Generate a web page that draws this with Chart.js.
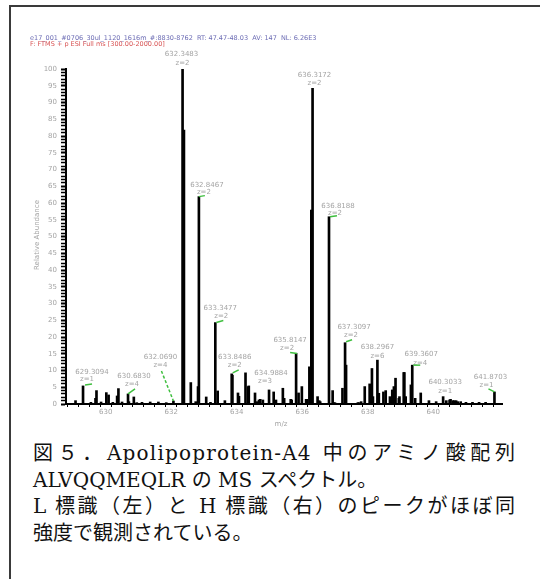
<!DOCTYPE html>
<html>
<head>
<meta charset="utf-8">
<script src="https://cdn.jsdelivr.net/npm/chart.js@4.4.1/dist/chart.umd.min.js"></script>
<style>
html, body { margin: 0; padding: 0; background: #fff; width: 540px; height: 579px; overflow: hidden; }
#frame { position: absolute; left: 9px; top: 5px; width: 700px; height: 700px;
         border-left: 2px solid #3a3a3a; border-top: 2px solid #3a3a3a; }
#wrap { position: absolute; left: 0; top: 0; width: 540px; height: 440px; }
#caption { position: absolute; left: 33px; top: 440px; width: 482px;
           font-family: "DejaVu Serif", "Noto Sans CJK JP", serif;
           font-size: 20px; line-height: 26.5px; color: #111; }
#caption div { white-space: nowrap; }
#caption .j { text-align: justify; text-align-last: justify; }
#caption .wide { letter-spacing: 1.2px; }
</style>
</head>
<body>
<div id="frame"></div>
<div id="wrap"><canvas id="ms-chart"></canvas></div>
<div id="caption">
  <div class="j">図５．<span class="wide">Apolipoprotein-A4</span> 中のアミノ酸配列</div>
  <div>ALVQQMEQLR の MS スペクトル。</div>
  <div class="j">L 標識（左）と H 標識（右）のピークがほぼ同</div>
  <div>強度で観測されている。</div>
</div>
<script>
// Spectrum sticks (m/z, relative abundance %)
const mzValues = [
  629.08, 629.3094, 629.55, 629.69, 629.72, 629.86, 630.02, 630.09, 630.22, 630.35,
  630.39, 630.50, 630.683, 630.71, 630.86, 630.95, 631.11, 631.36, 631.61, 631.85,
  632.069, 632.3483, 632.39, 632.60, 632.75, 632.82, 632.8467, 633.07, 633.20, 633.3477,
  633.42, 633.64, 633.8486, 633.87, 634.04, 634.07, 634.27, 634.35, 634.37, 634.56,
  634.62, 634.68, 634.72, 634.80, 634.9884, 635.13, 635.20, 635.41, 635.45, 635.65,
  635.68, 635.8147, 635.89, 635.99, 636.12, 636.15, 636.22, 636.28, 636.3172, 636.47,
  636.52, 636.55, 636.8188, 636.93, 636.96, 637.00, 637.23, 637.3097, 637.34, 637.70,
  637.73, 637.80, 637.91, 638.06, 638.13, 638.16, 638.2967, 638.34, 638.48, 638.55,
  638.68, 638.75, 638.80, 638.85, 638.95, 638.97, 639.10, 639.12, 639.16, 639.32,
  639.3607, 639.45, 639.62, 639.87, 640.09, 640.3033, 640.40, 640.50, 640.53, 640.60,
  640.64, 640.70, 640.75, 640.84, 641.00, 641.20, 641.40, 641.60, 641.8703
];
const intensities = [
  1.0, 5.4, 0.5, 1.7, 4.0, 0.6, 3.4, 2.7, 0.5, 2.4,
  4.6, 0.6, 3.0, 0.7, 2.1, 0.4, 0.5, 0.6, 0.6, 0.4,
  0.9, 100, 81.8, 6.4, 0.7, 5.2, 61.9, 2.1, 0.5, 24.3,
  3.9, 1.0, 9.0, 8.6, 3.3, 2.3, 9.3, 5.2, 5.4, 3.3,
  0.7, 1.2, 1.4, 1.2, 4.2, 3.6, 1.2, 4.7, 1.7, 1.4,
  1.2, 15.1, 3.3, 5.2, 1.4, 1.4, 11.1, 57.9, 94.2, 2.2,
  1.0, 0.7, 55.9, 4.0, 0.4, 0.4, 4.7, 18.3, 11.6, 0.4,
  0.4, 0.7, 5.2, 6.0, 10.6, 2.2, 13.1, 3.2, 3.6, 4.0,
  2.2, 4.2, 5.2, 7.7, 1.7, 2.2, 9.4, 9.4, 2.2, 5.7,
  11.6, 1.7, 3.3, 1.0, 0.7, 2.2, 1.0, 1.2, 1.4, 1.0,
  1.0, 1.0, 0.7, 0.7, 0.5, 0.5, 0.5, 0.5, 3.6
];

// Annotated peaks
const labelMz = [629.3094, 630.683, 632.069, 632.3483, 632.8467, 633.3477, 633.8486, 634.9884,
                 635.8147, 636.3172, 636.8188, 637.3097, 638.2967, 639.3607, 640.3033, 641.8703];
const labelText = ['629.3094', '630.6830', '632.0690', '632.3483', '632.8467', '633.3477', '633.8486', '634.9884',
                   '635.8147', '636.3172', '636.8188', '637.3097', '638.2967', '639.3607', '640.3033', '641.8703'];
const labelZ = [1, 4, 4, 2, 2, 2, 2, 3, 2, 2, 2, 2, 6, 4, 1, 1];

// axis ranges / ticks
const xMin = 628.96, xMax = 641.93;
const xLabelled = [630, 632, 634, 636, 638, 640];
const yMax = 100;

// label placement relative to the peak top (px): [mzDx, mzDy, zDx, zDy, greenLine or null, dashed]
const labelLayout = [
  [9, -14, 4, -7, [2, -1, 9, -2], false],
  [6, -18, 4, -10, [0, 0, 7, -5], false],
  [-13, -44, -13, -36, [-12, -30, 0, 0], true],
  [-1, -15, 0, -6, null, false],
  [8, -11, 5, -4, [0, 0, 6, -1], false],
  [5, -14, 6, -6, [1, 0, 8, -2], false],
  [3, -17, 3, -9, [1, -1, 7, -4], false],
  [2, -17, -4, -9, null, false],
  [-6, -13, -9, -5, [-6, -1, 1, 0], false],
  [2, -13, 2, -5, null, false],
  [9, -11, 6, -4, [1, 0, 8, -1], false],
  [9, -16, 6, -8, [1, -1, 7, -3], false],
  [0, -13, 0, -4, null, false],
  [9, -11, 8, -2, [1, 0, 8, 0], false],
  [2, -14, 2, -5, null, false],
  [-4, -15, -8, -7, [-6, -3, 0, 0], false]
];

const headerLine1 = 'e17_001_#0706_30ul_1120_1616m_#:8830-8762  RT: 47.47-48.03  AV: 147  NL: 6.26E3';
const headerLine2 = 'F: FTMS + p ESI Full ms [300.00-2000.00]';

const smallFont = '7px "DejaVu Sans", sans-serif';
const grey = '#a4a4a4';

const annotationPlugin = {
  id: 'msAnnotations',
  afterDraw(chart) {
    const ctx = chart.ctx;
    const xs = chart.scales.x, ys = chart.scales.y;
    ctx.save();

    // header
    ctx.font = '6.5px "DejaVu Sans", sans-serif';
    ctx.textBaseline = 'middle';
    ctx.textAlign = 'left';
    ctx.fillStyle = '#6c6cb4';
    ctx.fillText(headerLine1, 30, 38, 360);
    ctx.fillStyle = '#d85454';
    ctx.fillText(headerLine2, 30, 44, 160);

    // axis titles
    ctx.fillStyle = grey;
    ctx.font = smallFont;
    ctx.textAlign = 'center';
    ctx.fillText('m/z', 281, 424);
    ctx.save();
    ctx.translate(37, 235);
    ctx.rotate(-Math.PI / 2);
    ctx.fillText('Relative Abundance', 0, 0);
    ctx.restore();

    // peak labels
    labelMz.forEach((mz, i) => {
      const k = mzValues.indexOf(mz);
      const px = xs.getPixelForValue(mz);
      const py = ys.getPixelForValue(intensities[k]);
      const L = labelLayout[i];
      ctx.fillStyle = grey;
      ctx.font = smallFont;
      ctx.textAlign = 'center';
      ctx.fillText(labelText[i], px + L[0], py + L[1]);
      ctx.fillText('z=' + labelZ[i], px + L[2], py + L[3]);
      if (L[4]) {
        const g = L[4];
        ctx.strokeStyle = '#3fbf3f';
        ctx.lineWidth = 1.5;
        ctx.setLineDash(L[5] ? [3, 2] : []);
        ctx.beginPath();
        ctx.moveTo(px + g[0], py + g[1]);
        ctx.lineTo(px + g[2], py + g[3]);
        ctx.stroke();
        ctx.setLineDash([]);
      }
    });
    ctx.restore();
  }
};

const chart = new Chart(document.getElementById('ms-chart'), {
  type: 'bar',
  data: {
    datasets: [{
      data: mzValues.map((mz, i) => ({ x: mz, y: intensities[i] })),
      backgroundColor: '#000',
      borderWidth: 0,
      barThickness: 2,
      grouped: false
    }]
  },
  options: {
    responsive: true,
    maintainAspectRatio: false,
    devicePixelRatio: 1,
    animation: false,
    events: [],
    layout: { padding: { left: 12, top: 69, right: 38, bottom: 0 } },
    plugins: { legend: { display: false }, tooltip: { enabled: false } },
    scales: {
      x: {
        type: 'linear',
        min: xMin,
        max: xMax,
        afterBuildTicks(scale) {
          const t = [];
          for (let i = -3; i <= 36; i++) {
            const v = 630 + i / 3;
            if (v >= xMin && v <= xMax) t.push({ value: v });
          }
          scale.ticks = t;
        },
        afterFit(scale) { scale.height = 36; },
        ticks: {
          autoSkip: false,
          maxRotation: 0,
          padding: 1,
          color: grey,
          font: { size: 7, family: 'DejaVu Sans' },
          callback(value) {
            const r = Math.round(value);
            return (Math.abs(value - r) < 1e-6 && xLabelled.includes(r)) ? String(r) : '';
          }
        },
        grid: { drawOnChartArea: false, tickLength: 3, tickWidth: 1, tickColor: '#000' },
        border: { display: true, color: '#000', width: 2 }
      },
      y: {
        min: 0,
        max: yMax,
        afterBuildTicks(scale) {
          const t = [];
          for (let v = 0; v <= yMax; v++) t.push({ value: v });
          scale.ticks = t;
        },
        afterFit(scale) { scale.width = 54; },
        ticks: {
          autoSkip: false,
          padding: 4,
          color: grey,
          font: { size: 7, family: 'DejaVu Sans' },
          callback(value) { return value % 5 === 0 ? String(value) : ''; }
        },
        grid: {
          drawOnChartArea: false,
          tickLength: 5,
          tickColor: '#000',
          tickWidth: (c) => (c.tick && c.tick.value % 5 === 0 ? 2 : 1.5)
        },
        border: { display: true, color: '#000', width: 2 }
      }
    }
  },
  plugins: [annotationPlugin]
});
</script>
</body>
</html>
